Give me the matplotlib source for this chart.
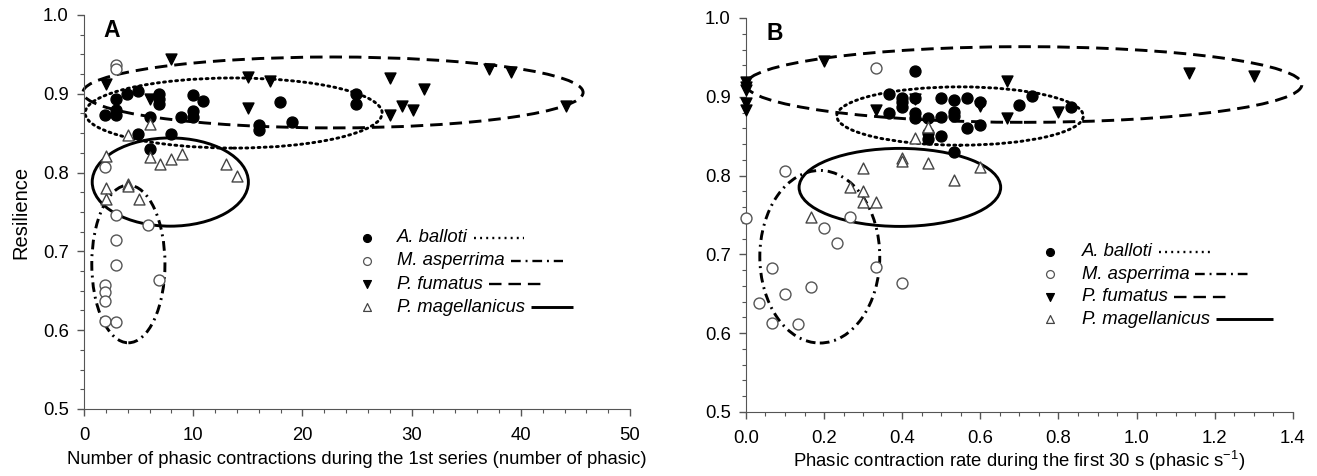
import matplotlib
matplotlib.use("Agg")
import matplotlib.pyplot as plt
from matplotlib.patches import Ellipse
from matplotlib.ticker import MultipleLocator, FormatStrFormatter

plt.rcParams["font.family"] = ["Liberation Sans", "DejaVu Sans"]
plt.rcParams["mathtext.fontset"] = "custom"
plt.rcParams["mathtext.rm"] = "Liberation Sans"
plt.rcParams["mathtext.it"] = "Liberation Sans:italic"
plt.rcParams["lines.scale_dashes"] = False

species = ["A. balloti", "M. asperrima", "P. fumatus", "P. magellanicus"]

# Panel A: number of phasic contractions vs resilience
a_balloti_x = [1.9, 2.9, 2.9, 2.9, 3.9, 4.9, 4.9, 6.0, 6.0, 6.9, 6.9, 6.9, 8.0, 8.9,
               9.95, 9.95, 9.95, 10.9, 16.0, 16.0, 17.9, 19.0, 24.9, 24.9]
a_balloti_y = [0.873, 0.893, 0.879, 0.873, 0.900, 0.904, 0.849, 0.871, 0.830, 0.900, 0.893, 0.887,
               0.849, 0.870, 0.898, 0.878, 0.871, 0.891, 0.860, 0.854, 0.890, 0.864, 0.900, 0.887]
a_asper_x = [2.9, 2.9, 1.9, 2.9, 5.9, 2.9, 2.9, 6.9, 1.9, 1.9, 1.9, 1.9, 2.9]
a_asper_y = [0.936, 0.931, 0.807, 0.746, 0.734, 0.714, 0.683, 0.664, 0.657, 0.649, 0.637, 0.612, 0.611]
a_fumat_x = [2.0, 8.0, 6.0, 15.0, 17.0, 15.0, 28.0, 31.1, 29.1, 30.1, 28.0, 37.1, 39.1, 44.1]
a_fumat_y = [0.912, 0.944, 0.893, 0.921, 0.916, 0.882, 0.920, 0.906, 0.885, 0.879, 0.873,
             0.931, 0.928, 0.884]
a_magel_x = [4.0, 6.0, 2.0, 6.0, 7.0, 8.0, 9.0, 13.0, 14.0, 2.0, 4.0, 4.0, 2.0, 5.0]
a_magel_y = [0.848, 0.862, 0.821, 0.820, 0.811, 0.817, 0.824, 0.811, 0.796, 0.781, 0.786,
             0.783, 0.766, 0.767]

# Panel B: phasic contraction rate vs resilience
b_balloti_x = [0.433, 0.367, 0.400, 0.400, 0.400, 0.433, 0.367, 0.433, 0.433, 0.467, 0.467, 0.467,
               0.500, 0.500, 0.500, 0.533, 0.533, 0.533, 0.533, 0.567, 0.567, 0.600, 0.600,
               0.700, 0.733, 0.833]
b_balloti_y = [0.933, 0.904, 0.899, 0.893, 0.887, 0.898, 0.879, 0.879, 0.873, 0.873, 0.854, 0.847,
               0.899, 0.874, 0.850, 0.896, 0.881, 0.875, 0.830, 0.899, 0.860, 0.894, 0.864,
               0.890, 0.901, 0.887]
b_asper_x = [0.333, 0.100, 0.0, 0.267, 0.200, 0.233, 0.067, 0.333, 0.400, 0.167, 0.100,
             0.033, 0.067, 0.133]
b_asper_y = [0.936, 0.806, 0.746, 0.747, 0.734, 0.715, 0.683, 0.684, 0.664, 0.658, 0.650,
             0.638, 0.613, 0.612]
b_fumat_x = [0.0, 0.0, 0.0, 0.0, 0.0, 0.200, 0.333, 0.433, 0.667, 0.600, 0.667, 0.800, 1.133, 1.300]
b_fumat_y = [0.919, 0.912, 0.908, 0.892, 0.883, 0.945, 0.883, 0.897, 0.920, 0.888, 0.873,
             0.881, 0.930, 0.926]
b_magel_x = [0.300, 0.400, 0.400, 0.467, 0.533, 0.600, 0.433, 0.467, 0.267, 0.300, 0.300,
             0.333, 0.167]
b_magel_y = [0.809, 0.822, 0.819, 0.816, 0.795, 0.811, 0.848, 0.862, 0.785, 0.781, 0.766,
             0.767, 0.747]

# ellipses: (center x, center y, width, height)
a_ellipses = [(13.7, 0.8756, 27.2, 0.089), (4.06, 0.684, 6.7, 0.200),
              (22.8, 0.9017, 45.8, 0.090), (7.9, 0.788, 14.3, 0.112)]
b_ellipses = [(0.548, 0.8756, 0.631, 0.074), (0.189, 0.697, 0.307, 0.219),
              (0.7115, 0.9156, 1.423, 0.096), (0.394, 0.785, 0.516, 0.099)]

line_styles = [(0, (1.4, 3.0)), (0, (7, 3.5, 1.4, 3.5)), (0, (9, 5.0)), "solid"]
marker_styles = [
    dict(marker="o", facecolor="black", edgecolor="black"),
    dict(marker="o", facecolor="white", edgecolor="#555555"),
    dict(marker="v", facecolor="black", edgecolor="black"),
    dict(marker="^", facecolor="white", edgecolor="#444444"),
]

FS = 13.3


def draw_panel(ax, series, ellipses, legend_pos, line_lens):
    for (x, y), st in zip(series, marker_styles):
        ax.scatter(x, y, s=62, linewidths=1.0, zorder=3, clip_on=False, **st)
    for (cx, cy, w, h), ls in zip(ellipses, line_styles):
        e = Ellipse((cx, cy), w, h, fill=False, edgecolor="black", linewidth=2.1,
                    linestyle=ls, zorder=2, clip_on=False)
        e.set_capstyle("round" if ls == line_styles[0] else "butt")
        ax.add_patch(e)

    mx, tx, y0, dy = legend_pos
    fig = ax.figure
    renderer = fig.canvas.get_renderer()
    for i, (name, st, ls) in enumerate(zip(species, marker_styles, line_styles)):
        yy = y0 - i * dy
        ax.scatter([mx], [yy], s=32, linewidths=0.9, transform=ax.transAxes, clip_on=False,
                   zorder=4, **st)
        t = ax.text(tx, yy, name, style="italic", fontsize=FS, va="center", ha="left",
                    transform=ax.transAxes)
        bb = t.get_window_extent(renderer)
        inv = ax.transAxes.inverted()
        x_start = inv.transform((bb.x1 + 6, 0))[0]
        x_end = inv.transform((bb.x1 + 6 + line_lens[i], 0))[0]
        ax.plot([x_start, x_end], [yy, yy], color="black", linewidth=1.7 if ls != "solid" else 2.1,
                linestyle=ls, transform=ax.transAxes, clip_on=False,
                solid_capstyle="butt", dash_capstyle="butt")


fig = plt.figure(figsize=(13.17, 4.76), dpi=100)
ax_a = fig.add_axes([0.0638, 0.1408, 0.4146, 0.8277])
ax_b = fig.add_axes([0.5664, 0.1345, 0.4153, 0.8277])

for ax in (ax_a, ax_b):
    ax.spines["top"].set_visible(False)
    ax.spines["right"].set_visible(False)
    ax.spines["left"].set_color("#555555")
    ax.spines["bottom"].set_color("#555555")
    ax.set_ylim(0.5, 1.0)
    ax.yaxis.set_major_locator(MultipleLocator(0.1))
    ax.yaxis.set_major_formatter(FormatStrFormatter("%.1f"))
    ax.tick_params(which="major", direction="out", length=5, width=1, color="#555555",
                   labelsize=FS, pad=6)
    ax.tick_params(axis="x", which="major", pad=8)
    ax.tick_params(which="minor", direction="out", length=3, width=0.8, color="#555555")

ax_a.set_xlim(0, 50)
ax_a.xaxis.set_major_locator(MultipleLocator(10))
ax_a.xaxis.set_minor_locator(MultipleLocator(2))
ax_a.yaxis.set_minor_locator(MultipleLocator(0.025))
ax_a.set_xlabel("Number of phasic contractions during the 1st series (number of phasic)",
                fontsize=FS, labelpad=5)
ax_a.set_ylabel("Resilience", fontsize=14.5, labelpad=9)

ax_b.set_xlim(0, 1.4)
ax_b.xaxis.set_major_locator(MultipleLocator(0.2))
ax_b.xaxis.set_major_formatter(FormatStrFormatter("%.1f"))
ax_b.xaxis.set_minor_locator(MultipleLocator(0.05))
ax_b.yaxis.set_minor_locator(MultipleLocator(0.02))
ax_b.set_xlabel("Phasic contraction rate during the first 30 s (phasic s$^{-1}$)",
                fontsize=FS, labelpad=1)

draw_panel(ax_a,
           [(a_balloti_x, a_balloti_y), (a_asper_x, a_asper_y),
            (a_fumat_x, a_fumat_y), (a_magel_x, a_magel_y)],
           a_ellipses, (0.518, 0.573, 0.434, 0.0584), [50, 52, 55, 42])
draw_panel(ax_b,
           [(b_balloti_x, b_balloti_y), (b_asper_x, b_asper_y),
            (b_fumat_x, b_fumat_y), (b_magel_x, b_magel_y)],
           b_ellipses, (0.556, 0.614, 0.407, 0.0571), [53, 55, 52, 57])

ax_a.text(0.035, 0.99, "A", transform=ax_a.transAxes, fontsize=16.5, fontweight="bold",
          va="top", ha="left")
ax_b.text(0.038, 0.99, "B", transform=ax_b.transAxes, fontsize=16.5, fontweight="bold",
          va="top", ha="left")

fig.savefig("out.png", dpi=100)
